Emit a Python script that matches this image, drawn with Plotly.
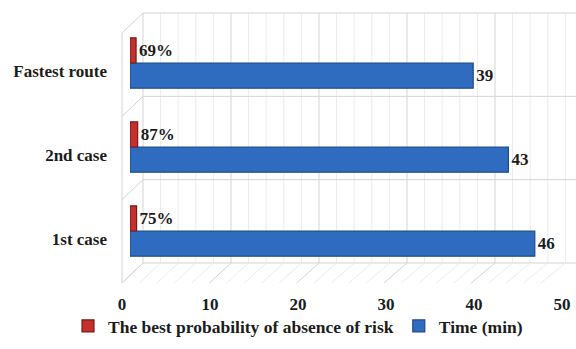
import plotly.graph_objects as go

# Data
categories = ["1st case", "2nd case", "Fastest route"]
time_min = [46, 43, 39]
prob_no_risk = [0.75, 0.87, 0.69]
x_ticks = [0, 10, 20, 30, 40, 50]

W, H = 576, 349
SERIF = "Liberation Serif, Times New Roman, serif"
TXT = "#1c1c1c"
FS = 17

def px_x(p):
    return p / W

def px_y(p):
    return 1 - p / H

# geometry of the pseudo-3D box (pixels)
back_left, back_top, back_bottom = 143, 13, 263
front_left, front_bottom = 122, 283
unit_back = 8.8
unit_front = 8.73
grid_major = "#d4d4d4"
grid_minor = "#ececec"

fig = go.Figure()

fig.add_trace(go.Bar(
    y=categories, x=time_min, orientation="h", name="Time (min)",
    marker=dict(color="#2f6cc0", line=dict(color="#1d4a8a", width=1.2)),
    text=[str(v) for v in time_min], textposition="outside",
    textfont=dict(family=SERIF, size=FS, color=TXT, weight="bold"),
    legendrank=2, cliponaxis=False,
))
fig.add_trace(go.Bar(
    y=categories, x=prob_no_risk, orientation="h",
    name="The best probability of absence of risk",
    marker=dict(color="#c4302b", line=dict(color="#7a1a16", width=1.2)),
    text=[f"{round(v * 100)}%" for v in prob_no_risk], textposition="outside",
    textfont=dict(family=SERIF, size=FS, color=TXT, weight="bold"),
    legendrank=1, cliponaxis=False,
))

# back wall, left wall and floor of the box
shapes = []

def seg(x0, y0, x1, y1, color):
    shapes.append(dict(type="line", xref="paper", yref="paper",
                       x0=px_x(x0), y0=px_y(y0), x1=px_x(x1), y1=px_y(y1),
                       line=dict(color=color, width=1), layer="below"))

# back wall verticals
v = 0
while back_left + unit_back * v <= W:
    xb = back_left + unit_back * v
    seg(xb, back_top, xb, back_bottom, grid_major if v % 10 == 0 else grid_minor)
    v += 2

# back wall horizontals and left wall slants at category boundaries
band = (back_bottom - back_top) / len(categories)
for i in range(len(categories) + 1):
    yb = back_top + i * band
    seg(back_left, yb, W, yb, grid_major)
    seg(back_left, yb, front_left, yb + front_bottom - back_bottom, grid_major)

# left wall front edge
seg(front_left, back_top + front_bottom - back_bottom, front_left, front_bottom, grid_major)

# floor slants
for v in range(0, 50, 2):
    seg(back_left + unit_back * v, back_bottom, front_left + unit_front * v, front_bottom,
        grid_major if v % 10 == 0 else grid_minor)

tick_font = dict(family=SERIF, size=FS, color=TXT, weight="bold")

fig.update_layout(
    width=W, height=H,
    margin=dict(l=0, r=0, t=0, b=0, autoexpand=False),
    paper_bgcolor="white",
    plot_bgcolor="rgba(0,0,0,0)",
    barmode="group", bargap=0.4, bargroupgap=0,
    showlegend=True,
    legend=dict(orientation="h", x=px_x(68), y=px_y(326), yanchor="middle", xanchor="left",
                font=dict(family=SERIF, size=17.5, color=TXT, weight="bold"),
                traceorder="normal", bgcolor="rgba(0,0,0,0)"),
    shapes=shapes,
    xaxis=dict(domain=[px_x(130), px_x(570)], range=[0, 50], automargin=False,
               tickmode="array", tickvals=x_ticks, ticks="", showgrid=False,
               zeroline=False, showline=False, ticklabelshift=-8, ticklabelstandoff=19,
               tickfont=tick_font),
    yaxis=dict(domain=[px_y(273), px_y(21)], automargin=False,
               type="category", categoryorder="array", categoryarray=categories,
               ticks="", showgrid=False, zeroline=False, showline=False,
               ticklabelshift=8, ticklabelstandoff=22, tickfont=tick_font),
)

fig.write_html("out.html")
